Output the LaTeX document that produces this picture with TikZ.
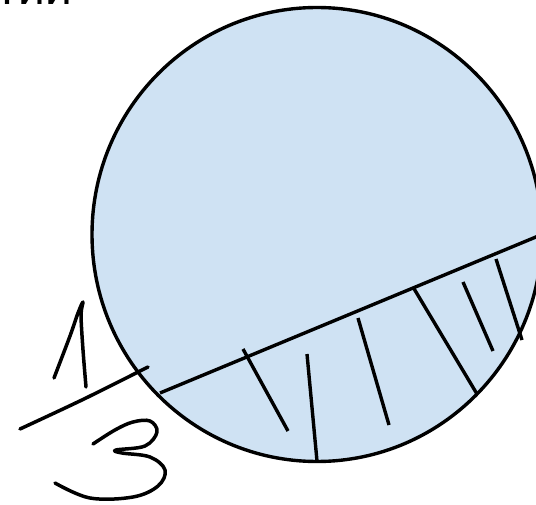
\documentclass[tikz,border=0pt]{standalone}
\usepackage{fontspec}
\setmainfont{Liberation Sans}
\definecolor{fillblue}{HTML}{CFE2F3}
\tikzset{
  ink/.style={line width=3.5pt, line cap=round, line join=round},
  hatch/.style={line width=3.4pt},
}
\begin{document}
\begin{tikzpicture}[x=1pt,y=-1pt]
\useasboundingbox (0,0) rectangle (536,505);
\clip (0,0) rectangle (536,505);
% top partial text
\node[anchor=base west, inner sep=0pt, font=\fontsize{48}{48}\selectfont] (txt) at (-4,5) {тии};
% circle
\draw[fill=fillblue, line width=3.4pt] (317,234.5) ellipse [x radius=225, y radius=227];
% chord
\coordinate (cl) at (160,393);
\coordinate (cr) at (560,227);
\draw[hatch] (cl) -- (cr);
% hatch lines
\draw[hatch] (243,349) -- (288,431);
\draw[hatch] (307,354) -- (317,461);
\draw[hatch] (358,318) -- (389,425);
\draw[hatch] (413,287) -- (477,394);
\draw[hatch] (463,282) -- (493,351);
\draw[hatch] (496,259) -- (522,340);
% handwritten 1/3
\draw[ink] plot[smooth, tension=0.5] coordinates {(54,378) (70,336) (78,313) (83,302) (81,315) (83,350) (86,387)};
\draw[ink] plot[smooth] coordinates {(20,429) (84,399) (148,367)};
\draw[ink] plot[smooth, tension=0.6] coordinates {(93,444) (115,430) (133,422) (150,421) (157,432) (145,446) (116,450) (122,453) (150,457) (165,470) (158,486) (133,497) (90,498) (55,483)};
\end{tikzpicture}
\end{document}
